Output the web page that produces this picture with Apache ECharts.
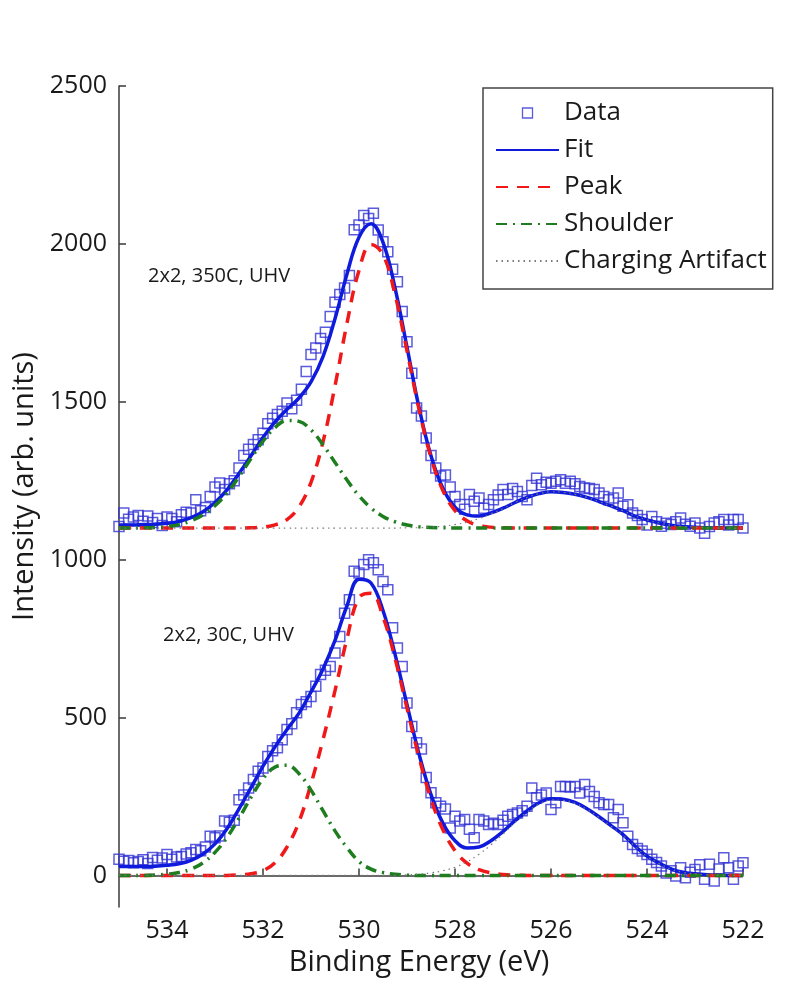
<!DOCTYPE html>
<html><head><meta charset="utf-8">
<script src="https://cdn.jsdelivr.net/npm/echarts@6/dist/echarts.min.js"></script>
<style>html,body{margin:0;padding:0;background:#fff}#c{width:795px;height:982px}</style>
</head><body><div id="c"></div>
<script>
// ---- data ----
const curveEnergy = [535,534.75,534.5,534.25,534,533.75,533.5,533.25,533,532.75,
  532.5,532.25,532,531.75,531.5,531.25,531,530.75,530.5,530.25,
  530,529.75,529.5,529.25,529,528.75,528.5,528.25,528,527.75,
  527.5,527.25,527,526.75,526.5,526.25,526,525.75,525.5,525.25,
  525,524.75,524.5,524.25,524,523.75,523.5,523.25,523,522.75,
  522.5,522.25,522];

const topFit = [1110,1110,1111,1112,1115,1121,1133,1152,1181,1221,
  1273,1329,1387,1436,1476,1512,1563,1643,1763,1905,
  2021,2064,2005,1861,1673,1482,1329,1225,1166,1142,
  1138,1148,1163,1181,1197,1209,1215,1213,1207,1197,
  1184,1170,1155,1138,1126,1116,1109,1105,1103,1101,
  1100,1100,1100];
const topPeak = [1100,1100,1100,1100,1100,1100,1100,1100,1100,1100,
  1100,1101,1103,1110,1127,1167,1245,1373,1550,1749,
  1916,1998,1966,1840,1661,1477,1324,1218,1155,1123,
  1108,1103,1101,1100,1100,1100,1100,1100,1100,1100,
  1100,1100,1100,1100,1100,1100,1100,1100,1100,1100,
  1100,1100,1100];
const topShoulder = [1100,1100,1101,1102,1105,1111,1123,1142,1171,1211,
  1263,1320,1375,1418,1441,1438,1411,1364,1308,1252,
  1202,1164,1137,1120,1110,1104,1102,1101,1100,1100,
  1100,1100,1100,1100,1100,1100,1100,1100,1100,1100,
  1100,1100,1100,1100,1100,1100,1100,1100,1100,1100,
  1100,1100,1100];
const topArtifact = [1100,1100,1100,1100,1100,1100,1100,1100,1100,1100,
  1100,1100,1100,1100,1100,1100,1100,1100,1100,1100,
  1100,1100,1100,1100,1101,1101,1103,1106,1111,1119,
  1130,1145,1162,1181,1197,1209,1215,1213,1207,1197,
  1184,1170,1155,1138,1126,1116,1109,1105,1103,1101,
  1100,1100,1100];

const bottomFit = [28,28,28,29,32,37,48,68,100,148,
  211,278,346,407,462,514,581,654,744,854,
  938,926,839,701,541,385,256,165,110,87,
  90,110,139,173,204,230,243,241,231,211,
  186,158,129,93,61,39,21,10,5,2,
  1,0,0];
const bottomPeak = [0,0,0,0,0,0,0,0,0,0,
  2,5,15,40,90,170,290,430,585,750,
  880,894,819,688,530,374,242,144,78,39,
  18,8,3,1,0,0,0,0,0,0,
  0,0,0,0,0,0,0,0,0,0,
  0,0,0];
const bottomShoulder = [0,0,0,1,4,9,20,40,73,120,
  181,247,306,343,349,322,270,205,141,88,
  44,20,9,4,1,0,0,0,0,0,
  0,0,0,0,0,0,0,0,0,0,
  0,0,0,0,0,0,0,0,0,0,
  0,0,0];
const bottomArtifact = [0,0,0,0,0,0,0,0,0,0,
  0,0,0,0,0,0,0,0,0,0,
  0,0,0,0,2,4,8,15,26,43,
  67,97,131,167,200,226,239,238,228,209,
  184,156,127,92,60,38,20,10,5,2,
  1,0,0];

const dataEnergy = [535.0,534.9,534.8,534.7,534.6,534.5,534.4,534.3,534.2,534.1,
  534.0,533.9,533.8,533.7,533.6,533.5,533.4,533.3,533.2,533.1,
  533.0,532.9,532.8,532.7,532.6,532.5,532.4,532.3,532.2,532.1,
  532.0,531.9,531.8,531.7,531.6,531.5,531.4,531.3,531.2,531.1,
  531.0,530.9,530.8,530.7,530.6,530.5,530.4,530.3,530.2,530.1,
  530.0,529.9,529.8,529.7,529.6,529.5,529.4,529.3,529.2,529.1,
  529.0,528.9,528.8,528.7,528.6,528.5,528.4,528.3,528.2,528.1,
  528.0,527.9,527.8,527.7,527.6,527.5,527.4,527.3,527.2,527.1,
  527.0,526.9,526.8,526.7,526.6,526.5,526.4,526.3,526.2,526.1,
  526.0,525.9,525.8,525.7,525.6,525.5,525.4,525.3,525.2,525.1,
  525.0,524.9,524.8,524.7,524.6,524.5,524.4,524.3,524.2,524.1,
  524.0,523.9,523.8,523.7,523.6,523.5,523.4,523.3,523.2,523.1,
  523.0,522.9,522.8,522.7,522.6,522.5,522.4,522.3,522.2,522.1,
  522.0];
const topData = [1105,1148,1128,1135,1140,1122,1138,1118,1130,1108,
  1135,1130,1120,1142,1150,1148,1190,1155,1165,1200,
  1230,1243,1222,1240,1250,1290,1330,1350,1365,1380,
  1400,1430,1448,1460,1470,1496,1478,1505,1540,1596,
  1650,1670,1700,1720,1770,1815,1840,1860,1900,2045,
  2060,2090,2080,2097,2044,2007,1975,1920,1880,1786,
  1690,1590,1480,1455,1385,1330,1290,1265,1268,1230,
  1200,1175,1160,1206,1185,1195,1163,1175,1190,1205,
  1222,1206,1225,1216,1200,1190,1235,1258,1237,1245,
  1242,1248,1253,1242,1248,1240,1232,1227,1225,1222,
  1211,1200,1190,1195,1211,1169,1174,1148,1140,1127,
  1110,1137,1120,1106,1115,1111,1120,1132,1112,1106,
  1116,1100,1084,1105,1116,1120,1127,1110,1127,1127,
  1100];
const bottomData = [51,45,47,40,44,50,38,57,48,55,
  66,51,58,60,68,72,82,78,90,124,
  119,125,172,168,175,240,255,277,304,330,
  340,377,395,404,430,462,480,515,541,550,
  567,599,636,650,662,704,757,830,873,963,
  958,985,1000,990,968,931,905,784,720,662,
  546,472,420,400,310,262,230,219,210,150,
  187,172,177,146,119,177,172,161,165,161,
  175,187,193,198,205,219,277,246,255,261,
  209,230,282,282,280,282,261,288,266,250,
  230,225,225,183,209,167,124,98,85,77,
  66,51,41,30,8,15,-2,24,-7,10,
  19,34,-12,35,-18,20,56,24,-12,30,
  40];

const xTicks = [534,532,530,528,526,524,522];
const yTicks = [0,500,1000,1500,2000,2500];
const seriesNames = ['Data','Fit','Peak','Shoulder','Charging Artifact'];
const spectrumLabels = ['2x2, 350C, UHV','2x2, 30C, UHV'];

// ---- chart ----
const FONT = '"Open Sans", "Noto Sans", sans-serif';
const C = {data:'#3232d4', fit:'#0f1bdc', peak:'#f01818', shoulder:'#1e7d1e', art:'#7a7a7a', axis:'#3a3a3a', text:'#1a1a1a'};
const pairs = (xs, ys) => xs.map((x, i) => [x, ys[i]]);
const HIDDEN = {color:'rgba(0,0,0,0)', borderWidth:0, opacity:0};

function dataSeries(vals){
  return {type:'scatter', name:seriesNames[0], data:pairs(dataEnergy, vals), symbol:'rect', symbolSize:10,
    itemStyle:{color:'rgba(0,0,0,0)', borderColor:C.data, borderWidth:1.5}, z:1};
}
function lineSeries(idx, vals, style, z){
  return {type:'line', name:seriesNames[idx], data:pairs(curveEnergy, vals), smooth:0.4, symbol:'none', showSymbol:false,
    lineStyle:style, itemStyle:{color:style.color}, z:z};
}
const fitStyle = {color:C.fit, width:3.5, type:'solid'};
const peakStyle = {color:C.peak, width:3.5, type:[12,9]};
const shoulderStyle = {color:C.shoulder, width:3.5, type:[11,6,2,6]};
const artStyle = {color:C.art, width:1.2, type:[1.5,4]};

const chart = echarts.init(document.getElementById('c'), null, {renderer:'canvas'});
chart.setOption({
  animation:false,
  backgroundColor:'#fff',
  grid:{left:119, right:52, top:86, bottom:75, containLabel:false, outerBoundsMode:'none'},
  xAxis:{type:'value', inverse:true, min:522, max:535,
    axisLine:{show:true, lineStyle:{color:C.axis, width:1.5}},
    axisTick:{show:true, inside:true, length:7, customValues:xTicks, lineStyle:{color:C.axis, width:1.5}},
    axisLabel:{customValues:xTicks, fontSize:25, fontFamily:FONT, color:C.text, margin:11, formatter:v => String(v)},
    splitLine:{show:false},
    name:'Binding Energy (eV)', nameLocation:'middle', nameGap:40,
    nameTextStyle:{fontSize:29, fontFamily:FONT, color:C.text, padding:[0,24,0,0]}},
  yAxis:{type:'value', min:-100, max:2500,
    axisLine:{show:true, lineStyle:{color:C.axis, width:1.5}},
    axisTick:{show:true, inside:true, length:7, customValues:yTicks, lineStyle:{color:C.axis, width:1.5}},
    axisLabel:{customValues:yTicks, fontSize:25, fontFamily:FONT, color:C.text, margin:12, formatter:v => String(v)},
    splitLine:{show:false},
    name:'Intensity (arb. units)', nameLocation:'middle', nameGap:62,
    nameTextStyle:{fontSize:29, fontFamily:FONT, color:C.text, padding:[0,0,0,20]}},
  legend:{orient:'vertical', left:483, top:88, itemWidth:63, itemHeight:10, itemGap:9,
    padding:[11,6,14,12], borderColor:'#444', borderWidth:1.5, backgroundColor:'#fff',
    textStyle:{fontSize:26, fontFamily:FONT, color:C.text, lineHeight:28},
    data:[
      {name:seriesNames[0], icon:'path://M0,0H10V10H0Z', itemStyle:{color:'rgba(0,0,0,0)', borderColor:C.data, borderWidth:1.3}},
      {name:seriesNames[1], itemStyle:HIDDEN},
      {name:seriesNames[2], itemStyle:HIDDEN},
      {name:seriesNames[3], itemStyle:HIDDEN},
      {name:seriesNames[4], itemStyle:HIDDEN}
    ]},
  graphic:[
    {type:'text', left:148, top:266, style:{text:spectrumLabels[0], font:'20px "Open Sans"', fill:C.text}},
    {type:'text', left:163, top:625, style:{text:spectrumLabels[1], font:'20px "Open Sans"', fill:C.text}}
  ],
  series:[
    dataSeries(topData), dataSeries(bottomData),
    lineSeries(1, topFit, fitStyle, 2), lineSeries(1, bottomFit, fitStyle, 2),
    lineSeries(2, topPeak, peakStyle, 3), lineSeries(2, bottomPeak, peakStyle, 3),
    lineSeries(3, topShoulder, shoulderStyle, 4), lineSeries(3, bottomShoulder, shoulderStyle, 4),
    lineSeries(4, topArtifact, artStyle, 5), lineSeries(4, bottomArtifact, artStyle, 5)
  ]
});
</script></body></html>
